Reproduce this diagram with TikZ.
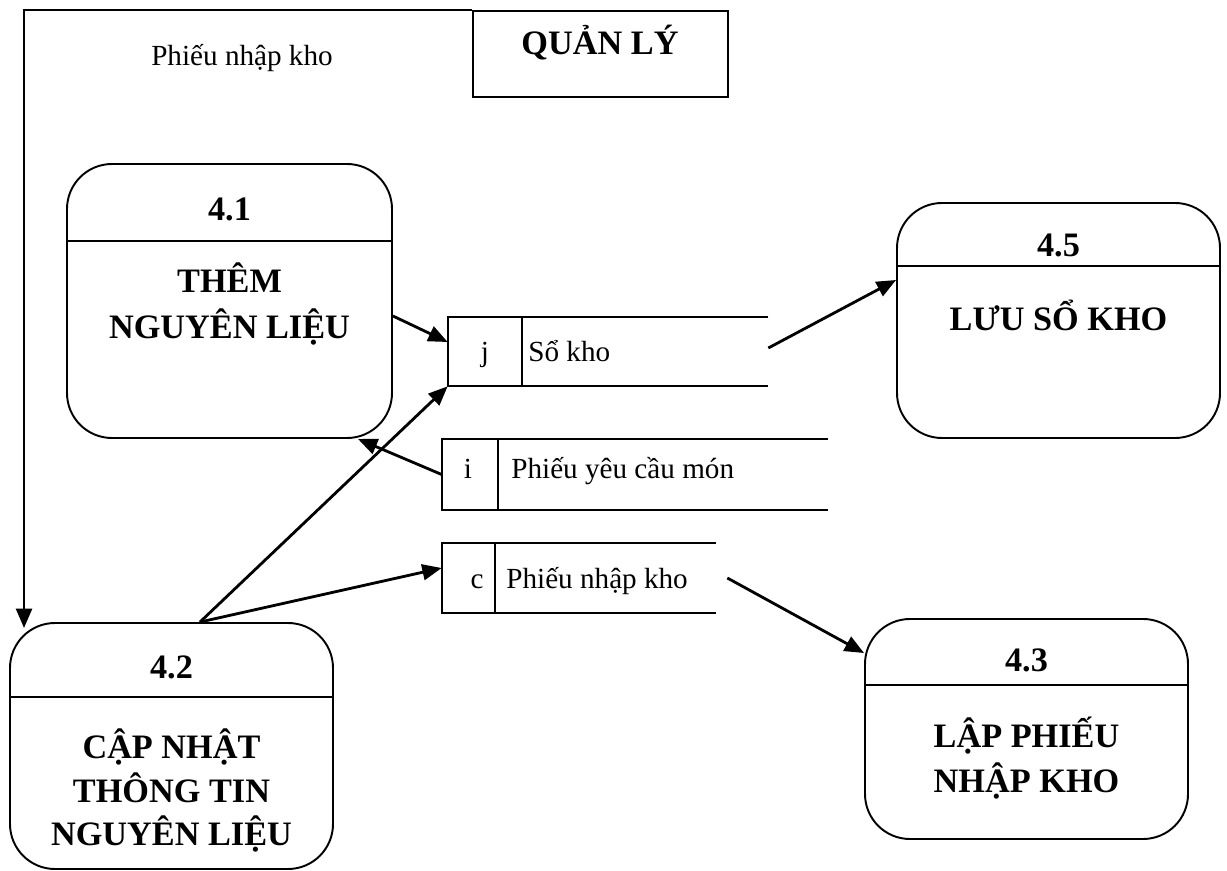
\documentclass[tikz,border=0pt]{standalone}
\usepackage{fontspec}
\setmainfont{Liberation Serif}
\usetikzlibrary{arrows.meta,fit}
\begin{document}
\begin{tikzpicture}[x=0.02cm,y=-0.02cm,
  proc/.style={draw, line width=1.1pt, rounded corners=0.9cm, inner sep=0pt},
  ext/.style={draw, line width=1.1pt, inner sep=0pt},
  store/.style={inner sep=0pt},
  sline/.style={line width=1.1pt},
  flow/.style={line width=1.6pt, -{Triangle[length=11pt,width=9pt]}},
  bold/.style={font=\fontsize{19.5}{25.5}\selectfont\bfseries, align=center, anchor=base, inner sep=0pt},
  plain/.style={font=\fontsize{16.6}{20}\selectfont, anchor=base, inner sep=0pt}]
\useasboundingbox (0,0) rectangle (1227,871);

% external entity
\node[ext, fit={(473,11) (728,97)}] (ql) {};
\node[bold] (qlt) at (600,55) {QUẢN LÝ};
\node[plain] (lblpn) at (242,66) {Phiếu nhập kho};

% processes
\node[proc, fit={(67,164) (392,438)}] (p41) {};
\draw[sline] (67,241) -- (392,241);
\node[bold] (p41n) at (229.5,221) {4.1};
\node[bold] (p41a) at (229.5,293) {THÊM};
\node[bold] (p41b) at (229.5,339) {NGUYÊN LIỆU};

\node[proc, fit={(897,203) (1220,438)}] (p45) {};
\draw[sline] (897,266) -- (1220,266);
\node[bold] (p45n) at (1058.5,257) {4.5};
\node[bold] (p45a) at (1058.5,331) {LƯU SỔ KHO};

\node[proc, fit={(10,623) (333,869)}] (p42) {};
\draw[sline] (10,697) -- (333,697);
\node[bold] (p42n) at (171.5,678) {4.2};
\node[bold] (p42a) at (171.5,758) {CẬP NHẬT};
\node[bold] (p42b) at (171.5,802) {THÔNG TIN};
\node[bold] (p42c) at (171.5,845) {NGUYÊN LIỆU};

\node[proc, fit={(865,619) (1188,839)}] (p43) {};
\draw[sline] (865,685) -- (1188,685);
\node[bold] (p43n) at (1026.5,671) {4.3};
\node[bold] (p43a) at (1026.5,747) {LẬP PHIẾU};
\node[bold] (p43b) at (1026.5,792) {NHẬP KHO};

% data stores
\node[store, fit={(448,317) (768,386)}] (sj) {};
\draw[sline] (sj.north east) -- (sj.north west) -- (sj.south west) -- (sj.south east);
\draw[sline] (522,317) -- (522,386);
\node[plain] (sjk) at (485,362) {j};
\node[plain, anchor=base west] (sjt) at (528,362) {Sổ kho};

\node[store, fit={(442,439) (828,510)}] (si) {};
\draw[sline] (si.north east) -- (si.north west) -- (si.south west) -- (si.south east);
\draw[sline] (498,439) -- (498,510);
\node[plain] (sik) at (468,478) {i};
\node[plain, anchor=base west] (sit) at (511,478) {Phiếu yêu cầu món};

\node[store, fit={(442,543) (716,613)}] (sc) {};
\draw[sline] (sc.north east) -- (sc.north west) -- (sc.south west) -- (sc.south east);
\draw[sline] (495,543) -- (495,613);
\node[plain] (sck) at (477,588) {c};
\node[plain, anchor=base west] (sct) at (506,588) {Phiếu nhập kho};

% data flows
\draw[flow] (ql.north west) -| ([xshift=0.3cm,yshift=-0.12cm]p42.north west);
\draw[flow] ([yshift=-0.3cm]p41.east) -- ([yshift=0.19cm]sj.west);
\draw[flow] ([xshift=0.57cm]p42.north) -- (sj.south west);
\draw[flow] ([xshift=0.57cm]p42.north) -- ([yshift=0.2cm]sc.west);
\draw[flow] (si.west) -- ([xshift=-0.7cm]p41.south east);
\draw[flow] ([yshift=0.07cm]sj.east) -- ([yshift=0.81cm]p45.west);
\draw[flow] ([xshift=0.22cm]sc.east) -- ([yshift=1.52cm]p43.west);
\end{tikzpicture}
\end{document}
